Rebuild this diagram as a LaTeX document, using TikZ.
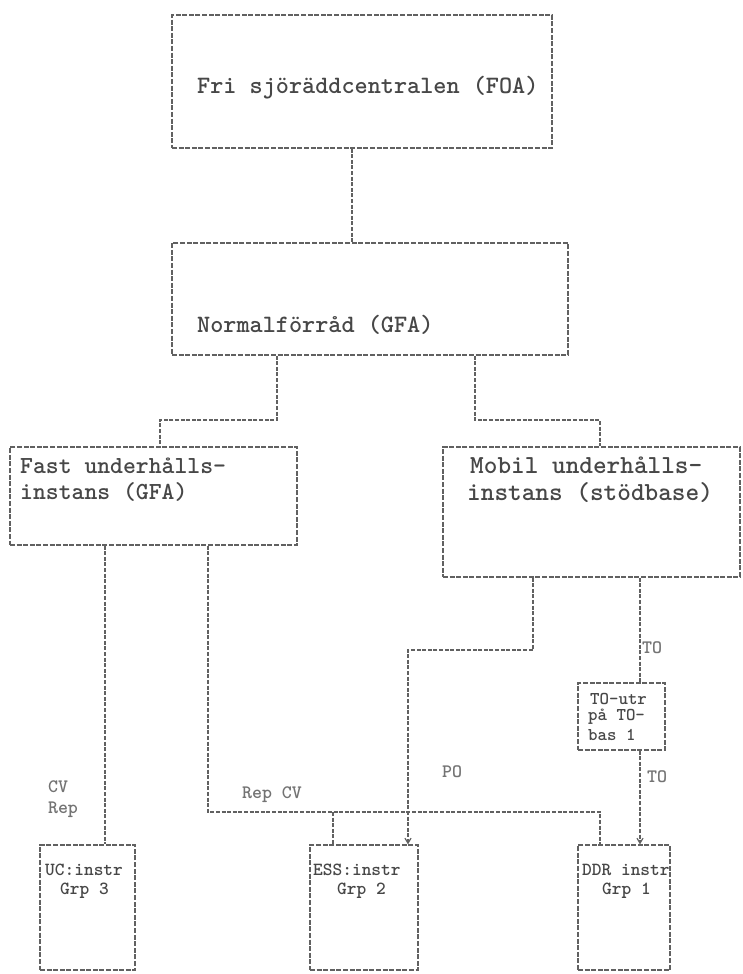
\documentclass[tikz,border=0pt]{standalone}
\usepackage{fontspec}
\newcommand\tw{\ttfamily\bfseries}
\usetikzlibrary{arrows.meta}
\begin{document}
\begin{tikzpicture}[x=1pt,y=-1pt,
  frame/.style={draw=black!62, line width=1.3pt, dash pattern=on 5pt off 1.6pt, inner sep=0pt, rectangle},
  link/.style={draw=black!62, line width=1.2pt, dash pattern=on 4pt off 1.6pt},
  tip/.style={-{Straight Barb[length=5pt,width=6pt]}},
  big/.style={text=black!72, inner sep=0pt, anchor=west, font=\tw\fontsize{25}{28}\selectfont},
  midl/.style={text=black!72, inner sep=0pt, anchor=west, font=\tw\fontsize{24.5}{28}\selectfont},
  midr/.style={text=black!72, inner sep=0pt, anchor=west, font=\tw\fontsize{26}{30}\selectfont},
  lbl/.style={text=black!55, inner sep=0pt, font=\tw\fontsize{19}{21}\selectfont},
  sml/.style={text=black!72, inner sep=0pt, anchor=west, font=\tw\fontsize{18}{20}\selectfont},
  bot/.style={text=black!72, inner sep=0pt, anchor=west, font=\tw\fontsize{18.5}{22}\selectfont},
]
\useasboundingbox (0,0) rectangle (743,974);
% boxes
\node[frame, minimum width=380pt, minimum height=133pt] (b1) at (362,81.5) {};
\node[frame, minimum width=396pt, minimum height=112pt] (b2) at (370,299) {};
\node[frame, minimum width=287pt, minimum height=98pt] (b3) at (153.5,496) {};
\node[frame, minimum width=297pt, minimum height=130pt] (b4) at (591.5,512) {};
\node[frame, minimum width=87pt, minimum height=67pt] (bt) at (621.5,716.5) {};
\node[frame, minimum width=95pt, minimum height=125pt] (b5) at (87.5,907.5) {};
\node[frame, minimum width=108pt, minimum height=125pt] (b6) at (364,907.5) {};
\node[frame, minimum width=92pt, minimum height=125pt] (b7) at (624,907.5) {};
% texts
\node[big] (t1) at (197,88) {Fri sjöräddcentralen (FOA)};
\node[big] (t2) at (197,325) {Normalförråd (GFA)};
\node[midl] (t3a) at (20,466) {Fast underhålls-};
\node[midl] (t3b) at (20,492) {instans (GFA)};
\node[midr] (t4a) at (470,465) {Mobil underhålls-};
\node[midr] (t4b) at (467,493) {instans (stödbase)};
\node[sml] (tta) at (590,699) {TO-utr};
\node[sml] (ttb) at (588,717) {på TO-};
\node[sml] (ttc) at (588,735) {bas 1};
\node[bot] (t5a) at (45,870) {UC:instr};
\node[bot] (t5b) at (60,891) {Grp 3};
\node[bot] (t6a) at (313,870) {ESS:instr};
\node[bot] (t6b) at (337,891) {Grp 2};
\node[bot] (t7a) at (582,870) {DDR instr};
\node[bot] (t7b) at (602,891) {Grp 1};
% labels
\node[lbl] (l1) at (58,787) {CV};
\node[lbl] (l2) at (63,810) {Rep};
\node[lbl] (l3) at (272,795) {Rep CV};
\node[lbl] (l4) at (452,772) {PO};
\node[lbl] (l5) at (652,648) {TO};
\node[lbl] (l6) at (657,777) {TO};
% helper coordinates
\coordinate (x352) at (352,0);
\coordinate (x160) at (160,0);
\coordinate (x600) at (600,0);
\coordinate (x105) at (105,0);
\coordinate (x640) at (640,0);
\coordinate (j1) at (277,420);
\coordinate (j2) at (475,420);
\coordinate (j3) at (208,812);
\coordinate (j4) at (333,812);
\coordinate (j5) at (533,650);
\coordinate (j6) at (408,650);
% connectors
\draw[link] (b1.south -| x352) -- (b2.north -| x352);
\draw[link] (b2.south -| j1) -- (j1) -| (b3.north -| x160);
\draw[link] (b2.south -| j2) -- (j2) -| (b4.north -| x600);
\draw[link] (b3.south -| x105) -- (b5.north -| x105);
\draw[link] (b3.south -| j3) -- (j3) -| (b7.north -| x600);
\draw[link] (j4) -- (b6.north -| j4);
\draw[link,tip] (b4.south -| j5) -- (j5) -- (j6) -- (b6.north -| j6);
\draw[link] (b4.south -| x640) -- (bt.north -| x640);
\draw[link,tip] (bt.south -| x640) -- (b7.north -| x640);
\end{tikzpicture}
\end{document}
